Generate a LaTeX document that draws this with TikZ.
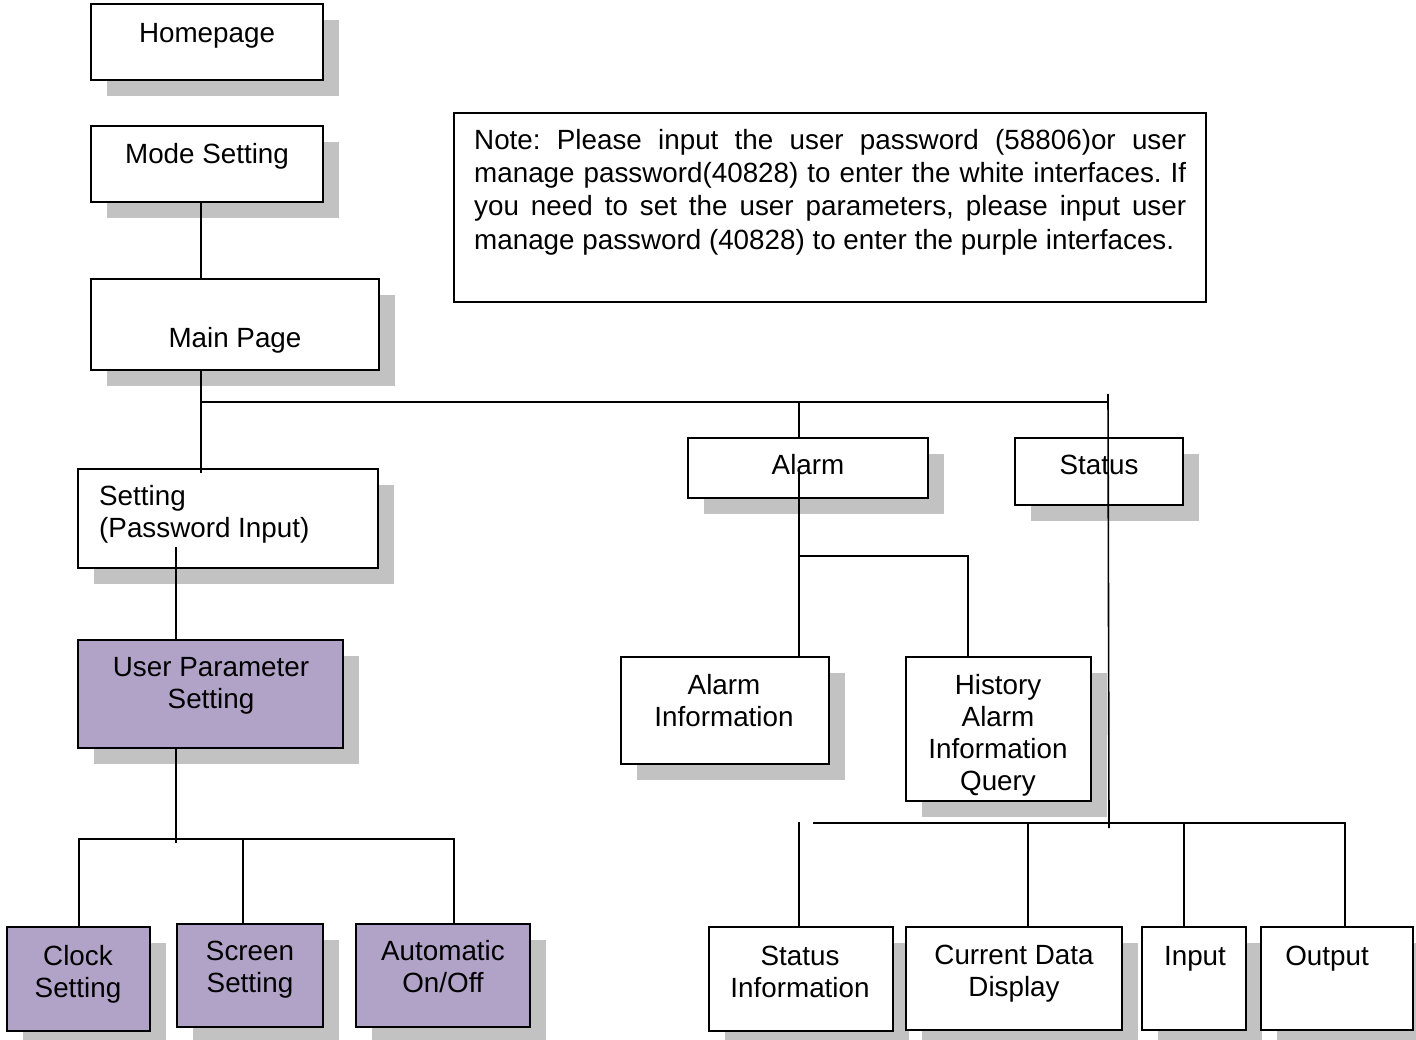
\documentclass[tikz,border=0pt]{standalone}
\usepackage{fontspec}
\setmainfont{Liberation Sans}
\usetikzlibrary{shadows}
\definecolor{purp}{RGB}{177,162,199}
\newcommand\mbx[9]{%
  \node[bx,#6,minimum width={(#4)-(#2)},minimum height={(#5)-(#3)}] (#1) at ({((#2)+(#4))/2},{((#3)+(#5))/2}) {};
  \node[tx] (#1t) at (#7,#8) {#9};}
\newcommand\jline[1]{\makebox[712pt][s]{#1}}
\begin{document}
\begin{tikzpicture}[x=1pt,y=-1pt,
  bx/.style={draw,line width=1.8pt,fill=white,inner sep=0pt,outer sep=0pt,
    drop shadow={shadow xshift=16pt,shadow yshift=-16pt,fill=black!24,opacity=1}},
  pb/.style={fill=purp},
  nb/.style={},
  tx/.style={align=center,inner sep=0pt,font=\fontsize{27.8pt}{32pt}\selectfont},
  ln/.style={line width=1.6pt}]
\useasboundingbox (0,0) rectangle (1416,1040);
\clip (0,0) rectangle (1416,1040);
\fill[white] (0,0) rectangle (1416,1040);

% boxes
\mbx{home}{91}{4}{323}{80}{nb}{207}{36}{Homepage}
\mbx{mode}{91}{126}{323}{202}{nb}{207}{156}{Mode Setting}
\mbx{main}{91}{279}{379}{370}{nb}{235}{340}{Main Page}
\node[bx,minimum width=300pt,minimum height=99pt] (seti) at (228,518.5) {};
\node[tx,align=left,anchor=west] (setit) at (99,514.5) {Setting\\(Password Input)};
\mbx{ups}{78}{640}{343}{748}{pb}{211}{686}{User Parameter\\Setting}
\mbx{clock}{7}{927}{150}{1031}{pb}{78}{974}{Clock\\Setting}
\mbx{screen}{177}{924}{323}{1027}{pb}{250}{970}{Screen\\Setting}
\mbx{auto}{356}{924}{530}{1027}{pb}{443}{967}{Automatic\\On/Off}
\mbx{alarm}{688}{438}{928}{498}{nb}{808}{465}{Alarm}
\mbx{status}{1015}{438}{1183}{505}{nb}{1099}{465}{Status}
\mbx{alinfo}{621}{657}{829}{764}{nb}{724}{701}{Alarm\\Information}
\mbx{hist}{906}{657}{1091}{801}{nb}{998}{735}{History\\Alarm\\Information\\Query}
\mbx{statinfo}{709}{927}{893}{1031}{nb}{800}{972}{Status\\Information}
\mbx{cur}{906}{927}{1122}{1030}{nb}{1014}{974}{Current Data\\Display}
\mbx{input}{1142}{927}{1246}{1030}{nb}{1195}{959}{Input}
\mbx{output}{1261}{927}{1413}{1030}{nb}{1327}{959}{Output}

% note
\node[draw,line width=1.5pt,minimum width=752pt,minimum height=189pt,inner sep=0pt,outer sep=0pt] (note) at (830,207.5) {};
\node[tx,align=left,anchor=north west,font=\fontsize{27.8pt}{33.3pt}\selectfont\frenchspacing] (notet) at (474,129) {\jline{Note: Please input the user password (58806)or user}\\
\jline{manage password(40828) to enter the white interfaces. If}\\
\jline{you need to set the user parameters, please input user}\\
manage password (40828) to enter the purple interfaces.};

% junction coordinates
\coordinate (j1) at (201,402);
\coordinate (j2) at (1108,402);
\coordinate (ja) at (799,402);
\coordinate (jb) at (799,556);
\coordinate (jc) at (968,556);
\coordinate (ju) at (176,839);
\coordinate (jl) at (79,839);
\coordinate (jr) at (454,839);
\coordinate (js) at (243,839);
\coordinate (k0) at (813,823);
\coordinate (k1) at (799,822);
\coordinate (k2) at (1028,823);
\coordinate (k3) at (1109,823);
\coordinate (k4) at (1184,823);
\coordinate (k5) at (1345,823);

% connectors
\draw[ln] (mode.south -| j1) -- (main.north -| j1);
\draw[ln] (main.south -| j1) -- ([yshift=-4pt]seti.north -| j1);
\draw[ln] (j1) -- (j2);
\draw[ln] (ja) -- (alarm.north -| ja);
\draw[ln] ([yshift=8pt]j2) -- ([yshift=-5pt]k3);
\draw[ln] (alarm.center -| ja) -- (alinfo.north -| ja);
\draw[ln] (jb) -- (jc) -- (hist.north -| jc);
\draw[ln] ([yshift=21pt]seti.south -| ju) -- (ups.north -| ju);
\draw[ln] (ups.south -| ju) -- ([yshift=-4pt]ju);
\draw[ln] (clock.north -| jl) -- (jl) -- (jr) -- (auto.north -| jr);
\draw[ln] (js) -- (screen.north -| js);
\draw[ln] (k0) -- (k5) -- (output.north -| k5);
\draw[ln] (k1) -- (statinfo.north -| k1);
\draw[ln] (k2) -- (cur.north -| k2);
\draw[ln] (k4) -- (input.north -| k4);
\end{tikzpicture}
\end{document}
